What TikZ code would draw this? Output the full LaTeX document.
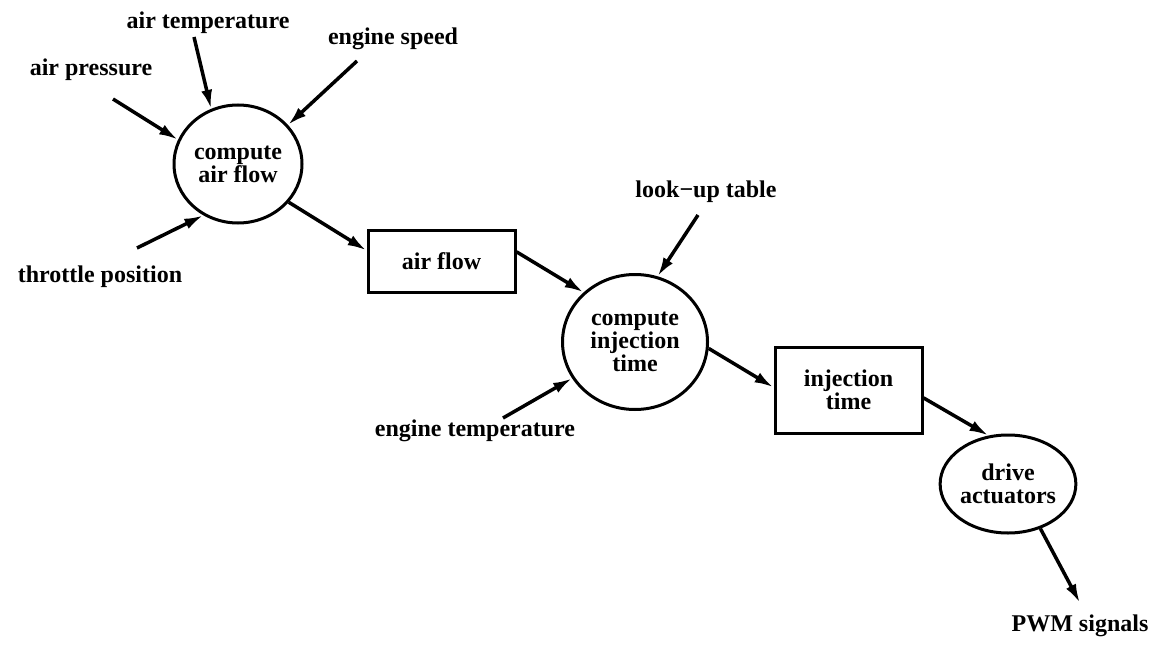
\documentclass[tikz,border=0pt]{standalone}
\usepackage{fontspec}
\setmainfont{Liberation Serif}
\usepackage{tikz}
\usetikzlibrary{arrows.meta, shapes.geometric}

\newcommand{\dffont}{\fontsize{24}{23}\selectfont\bfseries}

\begin{document}
\begin{tikzpicture}[
  x=1pt, y=-1pt,
  proc/.style={draw, ellipse, line width=3pt, inner sep=0pt,
               align=center, font=\dffont},
  store/.style={draw, rectangle, line width=3pt, inner sep=0pt,
                align=center, font=\dffont},
  lbl/.style={inner sep=0pt, font=\dffont},
  flow/.style={-{Latex[length=19pt,width=11pt]}, line width=3.5pt}
]
\useasboundingbox (0,0) rectangle (1159,650);

% processes and stores
\node[proc, minimum width=128pt, minimum height=118pt] (caf) at (238,164) {compute\\air flow};
\node[store, minimum width=147pt, minimum height=62pt] (af) at (441.5,261) {air flow};
\node[proc, minimum width=145pt, minimum height=135pt] (cit) at (635,342) {compute\\injection\\time};
\node[store, minimum width=147pt, minimum height=86pt] (it) at (848.5,390) {injection\\time};
\node[proc, minimum width=130pt, minimum height=98pt] (da) at (1008,484) {drive\\actuators};

% inputs and outputs
\node[lbl] (airtemp) at (208,23) {air temperature};
\node[lbl] (airpress) at (91,70) {air pressure};
\node[lbl] (engspeed) at (393,39) {engine speed};
\node[lbl] (throttle) at (100,277) {throttle position};
\node[lbl] (lookup) at (706,192) {look−up table};
\node[lbl] (engtemp) at (475,431) {engine temperature};
\node[lbl] (pwm) at (1080,626) {PWM signals};

\coordinate (atS) at (194,37);
\coordinate (apS) at (113,99);
\coordinate (esS) at (357,61);
\coordinate (tpS) at (137,248);
\coordinate (luS) at (698,215);
\coordinate (etS) at (503,418);
\coordinate (pwmE) at (1080,603);

\draw[flow] (atS) -- (caf.116);
\draw[flow] (apS) -- (caf.158);
\draw[flow] (esS) -- (caf.38);
\draw[flow] (tpS) -- (caf.-124);
\draw[flow] (caf.-37) -- (af.172);

\draw[flow] (af.7) -- (cit.136);
\draw[flow] (luS) -- (cit.71);
\draw[flow] (etS) -- (cit.210);
\draw[flow] (cit.-5) -- (it.178);

\draw[flow] (it.-6) -- (da.112);
\draw[flow] (da.-54) -- (pwmE);

\end{tikzpicture}
\end{document}
